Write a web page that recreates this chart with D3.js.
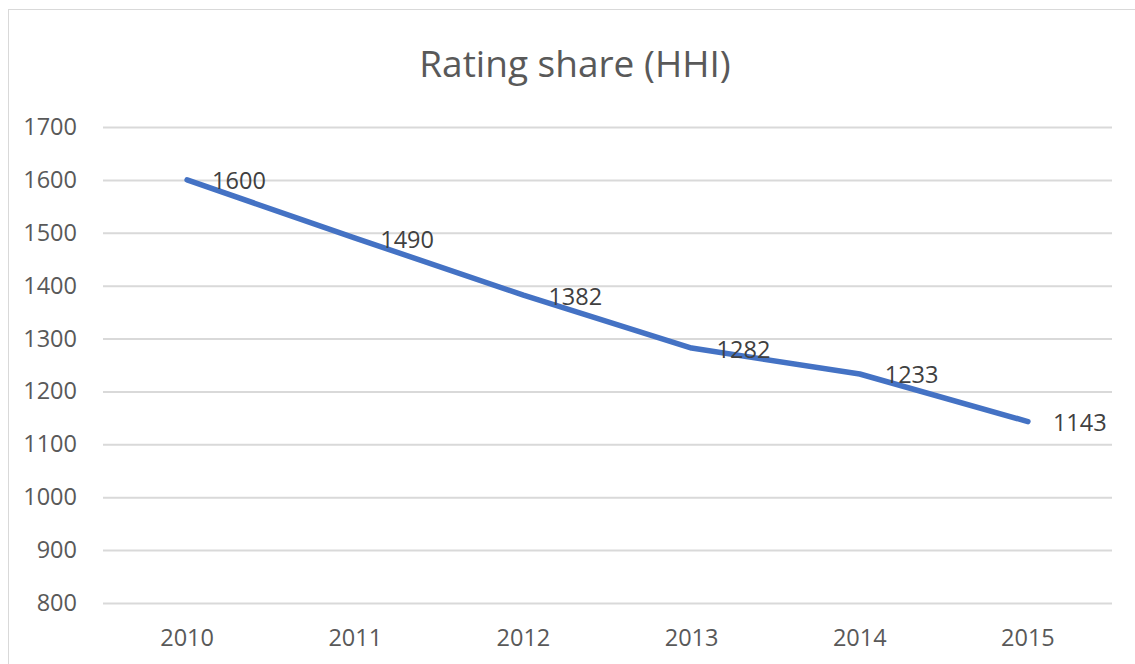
<!DOCTYPE html>
<html><head><meta charset="utf-8">
<script src="https://cdn.jsdelivr.net/npm/d3@7"></script>
<style>body{margin:0;background:#fff;} svg{display:block;} text{font-family:"Open Sans",sans-serif;}</style>
</head><body>
<svg id="c" width="1135" height="664"></svg>
<script>
const years = ["2010","2011","2012","2013","2014","2015"];
const values = [1600,1490,1382,1282,1233,1143];
const yTicks = [800,900,1000,1100,1200,1300,1400,1500,1600,1700];
const title = "Rating share (HHI)";

(function(){
const svg = d3.select("#c");
svg.append("rect").attr("x",8.5).attr("y",9.5).attr("width",1140).attr("height",670)
  .attr("fill","#fff").attr("stroke","#d9d9d9").attr("stroke-width",1);

const pL=103, pR=1112, pT=127, pB=603;
const x = d3.scaleBand().domain(years).range([pL,pR]);
const y = d3.scaleLinear().domain([800,1700]).range([pB,pT]);

svg.append("text").attr("x",575).attr("y",77).attr("text-anchor","middle")
  .attr("font-size",37).attr("fill","#595959").text(title);

const ga = svg.append("g").attr("transform",`translate(${pL},0)`)
  .call(d3.axisLeft(y).tickValues(yTicks).tickSize(-(pR-pL)).tickPadding(26).tickFormat(d3.format("d")));
ga.select(".domain").remove();
ga.selectAll(".tick line").attr("stroke","#d9d9d9").attr("stroke-width",2);
ga.selectAll(".tick text").attr("font-size",23.5).attr("fill","#595959").attr("font-family","Open Sans");

const gx = svg.append("g").attr("transform",`translate(0,${pB})`)
  .call(d3.axisBottom(x).tickSize(0).tickPadding(26));
gx.select(".domain").remove();
gx.selectAll(".tick text").attr("font-size",23.5).attr("fill","#595959").attr("font-family","Open Sans");

const cx = d => x(d) + x.bandwidth()/2;
const line = d3.line().x((d,i)=>cx(years[i])).y(d=>y(d));
svg.append("path").datum(values).attr("d",line).attr("fill","none")
  .attr("stroke","#4472c4").attr("stroke-width",5.5).attr("stroke-linejoin","round").attr("stroke-linecap","round");

svg.selectAll(".lbl").data(values).enter().append("text")
  .attr("x",(d,i)=>cx(years[i])+25).attr("y",d=>y(d)+1).attr("dy","0.36em")
  .attr("font-size",23.5).attr("fill","#404040").text(d=>d);
})();
</script>
</body></html>
